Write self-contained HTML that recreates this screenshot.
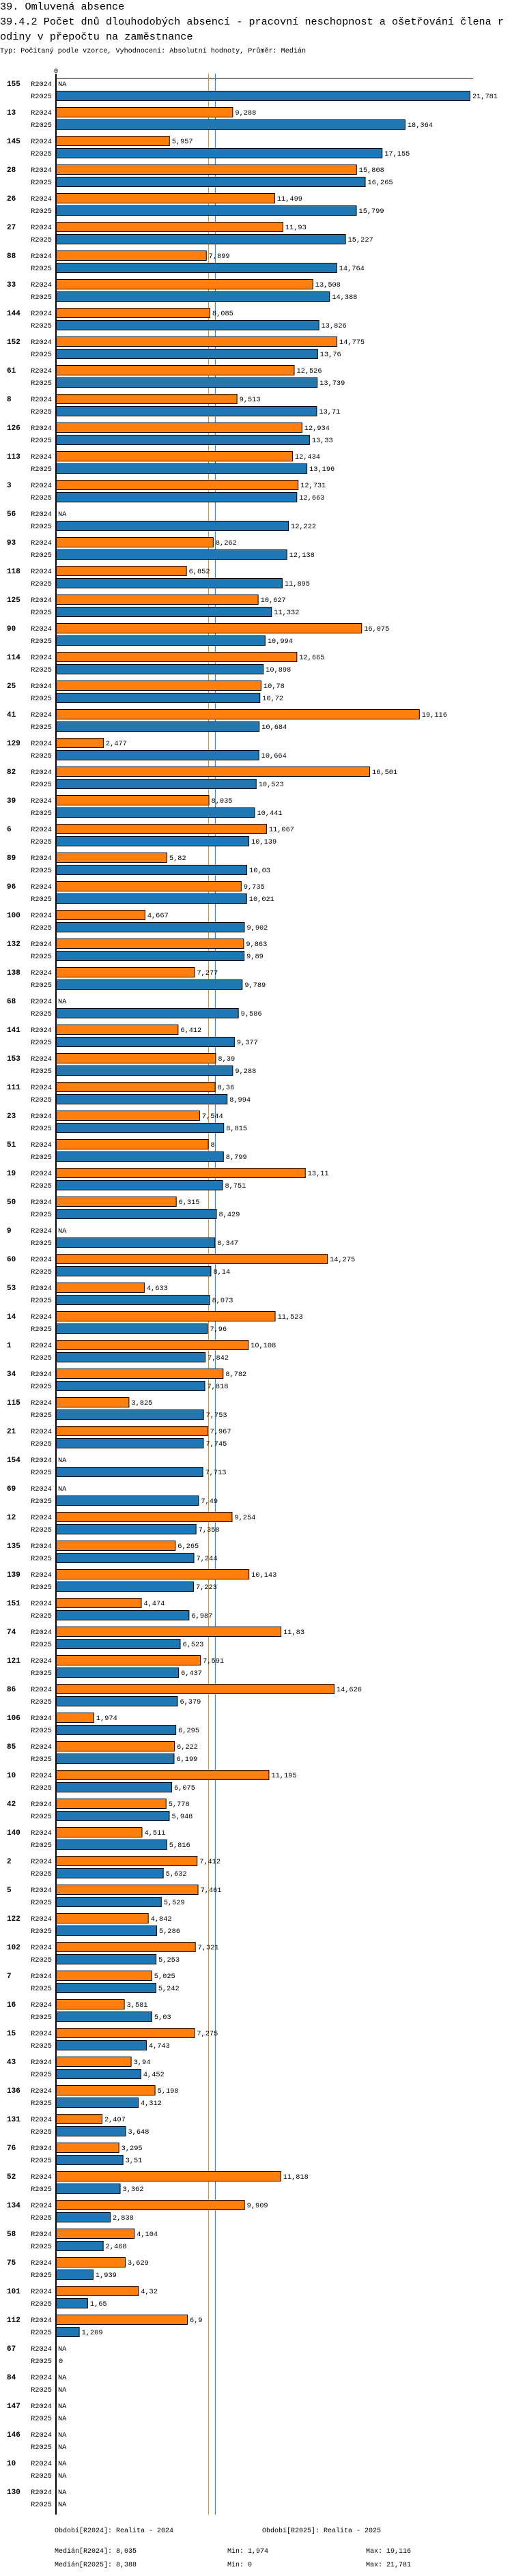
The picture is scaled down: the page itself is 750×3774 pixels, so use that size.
<!DOCTYPE html>
<html><head><meta charset="utf-8">
<style>
html,body{margin:0;padding:0;background:#fff;}
body{width:750px;height:3774px;overflow:hidden;font-family:"Liberation Mono",monospace;}
svg{display:block;}
</style></head>
<body>
<svg id="chart" width="750" height="3774" xmlns="http://www.w3.org/2000/svg" font-family="Liberation Mono, monospace">
  <text x="0" y="14" font-size="15.2">39. Omluvená absence</text>
  <text x="0" y="36" font-size="15.2" textLength="738" lengthAdjust="spacingAndGlyphs">39.4.2 Počet dnů dlouhodobých absencí - pracovní neschopnost a ošetřování člena r</text>
  <text x="0" y="58" font-size="15.2">odiny v přepočtu na zaměstnance</text>
  <text x="0" y="77" font-size="10" textLength="448" lengthAdjust="spacingAndGlyphs">Typ: Počítaný podle vzorce, Vyhodnocení: Absolutní hodnoty, Průměr: Medián</text>
  <g id="plot"></g>
  <text x="80" y="3710" font-size="10">Období[R2024]: Realita - 2024</text>
  <text x="384" y="3710" font-size="10">Období[R2025]: Realita - 2025</text>
  <text x="80" y="3740" font-size="10">Medián[R2024]: 8,035</text>
  <text x="333" y="3740" font-size="10">Min: 1,974</text>
  <text x="536" y="3740" font-size="10">Max: 19,116</text>
  <text x="80" y="3760" font-size="10">Medián[R2025]: 8,388</text>
  <text x="333" y="3760" font-size="10">Min: 0</text>
  <text x="536" y="3760" font-size="10">Max: 21,781</text>
</svg>
<script>
const categories = ["155","13","145","28","26","27","88","33","144","152","61","8","126","113","3","56","93","118","125","90","114","25","41","129","82","39","6","89","96","100","132","138","68","141","153","111","23","51","19","50","9","60","53","14","1","34","115","21","154","69","12","135","139","151","74","121","86","106","85","10","42","140","2","5","122","102","7","16","15","43","136","131","76","52","134","58","75","101","112","67","84","147","146","10","130"];
const values2024 = [null,9.288,5.957,15.808,11.499,11.93,7.899,13.508,8.085,14.775,12.526,9.513,12.934,12.434,12.731,null,8.262,6.852,10.627,16.075,12.665,10.78,19.116,2.477,16.501,8.035,11.067,5.82,9.735,4.667,9.863,7.277,null,6.412,8.39,8.36,7.544,8,13.11,6.315,null,14.275,4.633,11.523,10.108,8.782,3.825,7.967,null,null,9.254,6.265,10.143,4.474,11.83,7.591,14.626,1.974,6.222,11.195,5.778,4.511,7.412,7.461,4.842,7.321,5.025,3.581,7.275,3.94,5.198,2.407,3.295,11.818,9.909,4.104,3.629,4.32,6.9,null,null,null,null,null,null];
const values2025 = [21.781,18.364,17.155,16.265,15.799,15.227,14.764,14.388,13.826,13.76,13.739,13.71,13.33,13.196,12.663,12.222,12.138,11.895,11.332,10.994,10.898,10.72,10.684,10.664,10.523,10.441,10.139,10.03,10.021,9.902,9.89,9.789,9.586,9.377,9.288,8.994,8.815,8.799,8.751,8.429,8.347,8.14,8.073,7.96,7.842,7.818,7.753,7.745,7.713,7.49,7.358,7.244,7.223,6.987,6.523,6.437,6.379,6.295,6.199,6.075,5.948,5.816,5.632,5.529,5.286,5.253,5.242,5.03,4.743,4.452,4.312,3.648,3.51,3.362,2.838,2.468,1.939,1.65,1.209,0,null,null,null,null,null];
const seriesNames = ["R2024","R2025"];
const medians = [8.035, 8.388];
const axisTicks = [0];

const NS="http://www.w3.org/2000/svg";
const plot=document.getElementById('plot');
const X0=82, PX=27.82, TOPY=115, PITCH=42, BH=15, AXEND=3684;
const xScale=v=>X0+v*PX;
const yScale=(i,s)=>TOPY+i*PITCH+s*18;
const colors=["#ff7f0e","#1f77b4"];
function mk(tag,attrs){const e=document.createElementNS(NS,tag);for(const k in attrs)e.setAttribute(k,attrs[k]);plot.appendChild(e);return e;}
const fmt=v=>String(v).replace('.',',');

axisTicks.forEach(t=>{
  const e=mk('text',{x:xScale(t),y:107,'font-size':10.5,'text-anchor':'middle'});
  e.textContent=String(t);
  
  
});
const topLine=mk('line',{x1:X0,x2:693,y1:114.5,y2:114.5,stroke:'#000','stroke-width':1});



medians.forEach((m,k)=>{
  const l=mk('line',{x1:xScale(m),x2:xScale(m),y1:108,y2:AXEND,stroke:colors[k],'stroke-width':1});
  
  
});

categories.forEach((c,i)=>{
  const g=mk('text',{x:10,y:yScale(i,0)+11,'font-size':11,'font-weight':'bold'});
  g.textContent=c;
  
  
  [values2024,values2025].forEach((arr,s)=>{
    const y=yScale(i,s);
    const lab=mk('text',{x:76,y:y+11,'font-size':10.3,'text-anchor':'end'});
    lab.textContent=seriesNames[s];
    
    
    const v=arr[i];
    if(v===null){
      const t=mk('text',{x:85,y:y+11,'font-size':10.3});
      t.textContent='NA';
      
      
      return;
    }
    if(v>0){
      const r=mk('rect',{x:xScale(0)+0.5,y:y+0.5,width:xScale(v)-xScale(0),height:BH-1,fill:colors[s],stroke:'#000','stroke-width':1});
      
      
    }
    const t=mk('text',{x:xScale(v)+4,y:y+11,'font-size':10.3});
    t.textContent=fmt(v);
    
    
  });
});
const ax=mk('line',{x1:X0,x2:X0,y1:108,y2:AXEND,stroke:'#000','stroke-width':2});


</script>
</body></html>
